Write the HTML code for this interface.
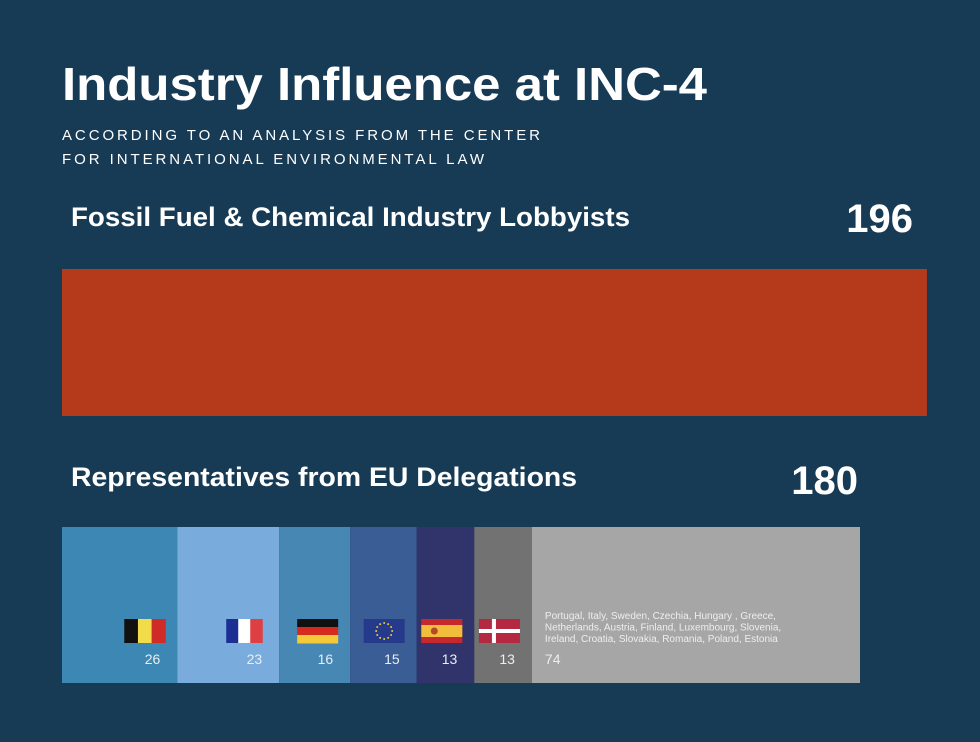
<!DOCTYPE html>
<html><head><meta charset="utf-8"><style>
html,body{margin:0;padding:0;background:#173a55;}
svg{display:block;font-family:"Liberation Sans",sans-serif;}
</style></head><body>
<svg id="chart" width="980" height="742" viewBox="0 0 980 742">
<rect x="0" y="0" width="980" height="742" fill="#173a55"/>
<text x="62" y="100" fill="#fff" font-size="46" font-weight="bold" textLength="645" lengthAdjust="spacingAndGlyphs">Industry Influence at INC-4</text>
<text x="62" y="140" fill="#fff" font-size="15" textLength="478" lengthAdjust="spacing">ACCORDING TO AN ANALYSIS FROM THE CENTER</text>
<text x="62" y="164" fill="#fff" font-size="15" textLength="422" lengthAdjust="spacing">FOR INTERNATIONAL ENVIRONMENTAL LAW</text>
<text x="71" y="226" fill="#fff" font-size="27" font-weight="bold" textLength="559" lengthAdjust="spacingAndGlyphs">Fossil Fuel &amp; Chemical Industry Lobbyists</text>
<text x="71" y="486" fill="#fff" font-size="27" font-weight="bold" textLength="506" lengthAdjust="spacingAndGlyphs">Representatives from EU Delegations</text>
<g id="bars"></g>
</svg>
<script>
const lobbyTotal = 196;
const euTotal = 180;
const euCountries = ["Belgium","France","Germany","EU","Spain","Denmark","Others"];
const euValues = [26,23,16,15,13,13,74];
const euLabels = ["26","23","16","15","13","13","74"];

const NS="http://www.w3.org/2000/svg";
const g=document.getElementById('bars');
const x0=62, scale=798/180;
const xs=v=>x0+v*scale;
function mk(t,a,p){const e=document.createElementNS(NS,t);for(const k in a)e.setAttribute(k,a[k]);(p||g).appendChild(e);return e;}

const rb=mk('rect',{x:x0,y:269,width:xs(lobbyTotal)-x0-4,height:147,fill:'#b5391b'});


const t1=mk('text',{x:913,y:232,fill:'#fff','font-size':40,'font-weight':'bold','text-anchor':'end'});
t1.textContent=String(lobbyTotal);


const t2=mk('text',{x:xs(euTotal)-2,y:494,fill:'#fff','font-size':40,'font-weight':'bold','text-anchor':'end'});
t2.textContent=String(euTotal);



const colors=['#3d87b4','#79acdc','#4687b4','#3b5d95','#31346a','#727272','#a6a6a6'];
function flag(i,fx,fy,p){
  const w=41,h=24;
  if(i===0){['#111','#f3dc4a','#cf2b27'].forEach((c,k)=>mk('rect',{x:fx+k*w/3,y:fy,width:w/3+0.5,height:h,fill:c},p));}
  else if(i===1){['#1c2f92','#fff','#dd3f42'].forEach((c,k)=>mk('rect',{x:fx+k*12,y:fy,width:12.5,height:h,fill:c},p));}
  else if(i===2){['#111','#d62a1f','#f3c93a'].forEach((c,k)=>mk('rect',{x:fx,y:fy+k*8,width:w,height:8.5,fill:c},p));}
  else if(i===3){mk('rect',{x:fx,y:fy,width:w,height:h,fill:'#263a8c'},p);
    for(let k=0;k<12;k++){const a=k*Math.PI/6;mk('circle',{cx:fx+w/2+8*Math.cos(a),cy:fy+h/2+8*Math.sin(a),r:1,fill:'#e8c83a'},p);}}
  else if(i===4){mk('rect',{x:fx,y:fy,width:w,height:h,fill:'#c6282b'},p);mk('rect',{x:fx,y:fy+6,width:w,height:12,fill:'#f2bd3a'},p);mk('circle',{cx:fx+13,cy:fy+12,r:3.5,fill:'#b04a2a'},p);}
  else if(i===5){mk('rect',{x:fx,y:fy,width:w,height:h,fill:'#b52842'},p);mk('rect',{x:fx+13,y:fy,width:4,height:h,fill:'#fff'},p);mk('rect',{x:fx,y:fy+10,width:w,height:4,fill:'#fff'},p);}
}
let cum=0;
euValues.forEach((v,i)=>{
  const xa=xs(cum), xb=xs(cum+v); cum+=v;
  const seg=mk('g',{});
  
  
  mk('rect',{x:xa,y:527,width:xb-xa,height:156,fill:colors[i]},seg);
  if(i<6){
    flag(i,xb-53,619,seg);
    const n=mk('text',{x:xb-17,y:664,fill:'#e8eef4','font-size':14,'text-anchor':'end'},seg);
    n.textContent=euLabels[i];
  } else {
    const lines=["Portugal, Italy, Sweden, Czechia, Hungary , Greece,","Netherlands, Austria, Finland, Luxembourg, Slovenia,","Ireland, Croatia, Slovakia, Romania, Poland, Estonia"];
    lines.forEach((l,k)=>{const t=mk('text',{x:xa+13,y:619+k*11.5,fill:'#eeeeee','font-size':10},seg);t.textContent=l;});
    const n=mk('text',{x:xa+13,y:664,fill:'#eeeeee','font-size':14},seg);n.textContent=euLabels[i];
  }
});
</script>
</body></html>
